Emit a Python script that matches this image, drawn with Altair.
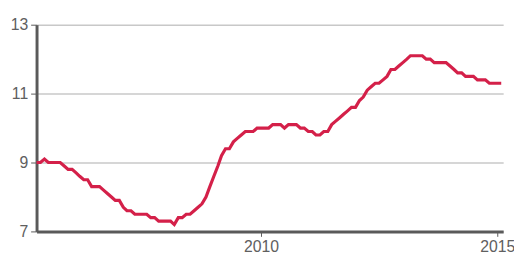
import altair as alt
import pandas as pd

# Monthly values, April 2005 .. February 2015
start_month = "2005-04-01"
values = [
    9.0, 9.0, 9.1, 9.0, 9.0, 9.0, 9.0, 8.9, 8.8, 8.8,
    8.7, 8.6, 8.5, 8.5, 8.3, 8.3, 8.3, 8.2, 8.1, 8.0,
    7.9, 7.9, 7.7, 7.6, 7.6, 7.5, 7.5, 7.5, 7.5, 7.4,
    7.4, 7.3, 7.3, 7.3, 7.3, 7.2, 7.4, 7.4, 7.5, 7.5,
    7.6, 7.7, 7.8, 8.0, 8.3, 8.6, 8.9, 9.2, 9.4, 9.4,
    9.6, 9.7, 9.8, 9.9, 9.9, 9.9, 10.0, 10.0, 10.0, 10.0,
    10.1, 10.1, 10.1, 10.0, 10.1, 10.1, 10.1, 10.0, 10.0, 9.9,
    9.9, 9.8, 9.8, 9.9, 9.9, 10.1, 10.2, 10.3, 10.4, 10.5,
    10.6, 10.6, 10.8, 10.9, 11.1, 11.2, 11.3, 11.3, 11.4, 11.5,
    11.7, 11.7, 11.8, 11.9, 12.0, 12.1, 12.1, 12.1, 12.1, 12.0,
    12.0, 11.9, 11.9, 11.9, 11.9, 11.8, 11.7, 11.6, 11.6, 11.5,
    11.5, 11.5, 11.4, 11.4, 11.4, 11.3, 11.3, 11.3, 11.3,
]
y_ticks = [7, 9, 11, 13]
x_tick_years = [2010, 2015]

dates = pd.date_range(start_month, periods=len(values), freq="MS").strftime("%Y-%m-%d")
df = pd.DataFrame({"date": list(dates), "value": values})

chart = (
    alt.Chart(df)
    .mark_line(color="#d42049", strokeWidth=3.2, interpolate="linear")
    .encode(
        x=alt.X(
            "date:T",
            scale=alt.Scale(
                type="utc",
                domain=[
                    alt.DateTime(year=2005, month=4, date=1, utc=True),
                    alt.DateTime(year=2015, month=2, date=16, utc=True),
                ],
            ),
            axis=alt.Axis(
                title=None,
                values=[alt.DateTime(year=y, month=1, date=1, utc=True) for y in x_tick_years],
                format="%Y",
                grid=False,
                domainColor="#5a5a5a",
                domainWidth=3,
                tickColor="#5a5a5a",
                tickSize=5,
                tickWidth=1,
                labelColor="#606060",
                labelFontSize=16,
                labelFont="Liberation Sans",
                labelPadding=2,
            ),
        ),
        y=alt.Y(
            "value:Q",
            scale=alt.Scale(domain=[7, 13], nice=False, zero=False),
            axis=alt.Axis(
                title=None,
                values=y_ticks,
                grid=True,
                gridColor="#c8c8c8",
                gridWidth=1.5,
                domainColor="#5a5a5a",
                domainWidth=3,
                tickColor="#5a5a5a",
                tickSize=6,
                tickWidth=1,
                labelColor="#606060",
                labelFontSize=16,
                labelFont="Liberation Sans",
                labelPadding=3,
            ),
        ),
    )
    .properties(
        width=474,
        height=210,
        autosize=alt.AutoSizeParams(type="none"),
        padding={"left": 29, "top": 15, "right": 11, "bottom": 23},
    )
    .configure_view(stroke=None)
    .configure_axis(labelFontWeight="normal")
)

chart.save("out.html", embed_options={"renderer": "svg", "actions": False})
